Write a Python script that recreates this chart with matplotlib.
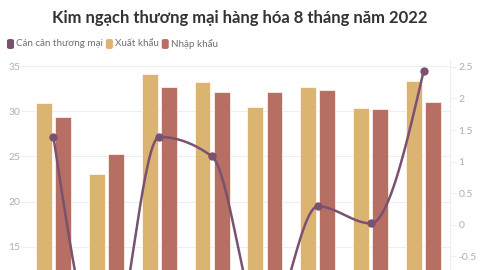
import numpy as np
import matplotlib
matplotlib.use("Agg")
import matplotlib.pyplot as plt
from matplotlib.patches import FancyBboxPatch

months = ["T1", "T2", "T3", "T4", "T5", "T6", "T7", "T8"]
xuat_khau = [30.9, 23.0, 34.1, 33.3, 30.5, 32.7, 30.4, 33.4]
nhap_khau = [29.4, 25.3, 32.7, 32.2, 32.2, 32.4, 30.3, 31.0]
can_can = [1.39, -2.3, 1.39, 1.08, -1.7, 0.29, 0.02, 2.43]

title = "Kim ngạch thương mại hàng hóa 8 tháng năm 2022"
legend_labels = ["Cán cân thương mại", "Xuất khẩu", "Nhập khẩu"]
left_ticks = [15, 20, 25, 30, 35]
right_ticks = [-0.5, 0, 0.5, 1, 1.5, 2, 2.5]

C_X = "#dcb472"
C_N = "#b66f62"
C_L = "#7a5170"
GRID = "#eeeeee"
TICK = "#b0b0b0"

plt.rcParams['font.family'] = ['Lato', 'DejaVu Sans']

def monotone_x(x, y, n=40):
    x = np.asarray(x, float); y = np.asarray(y, float)
    m = len(x)
    h = np.diff(x); s = np.diff(y) / h
    t = np.zeros(m)
    for i in range(1, m - 1):
        h0, h1, s0, s1 = h[i-1], h[i], s[i-1], s[i]
        p = (s0 * h1 + s1 * h0) / (h0 + h1)
        t[i] = (np.sign(s0) + np.sign(s1)) * min(abs(s0), abs(s1), 0.5 * abs(p))
    t[0] = (3 * s[0] - t[1]) / 2
    t[-1] = (3 * s[-1] - t[-2]) / 2
    xs, ys = [], []
    for i in range(m - 1):
        dx = h[i]
        P0 = (x[i], y[i]); P1 = (x[i] + dx/3, y[i] + dx*t[i]/3)
        P2 = (x[i+1] - dx/3, y[i+1] - dx*t[i+1]/3); P3 = (x[i+1], y[i+1])
        u = np.linspace(0, 1, n)
        bx = (1-u)**3*P0[0] + 3*(1-u)**2*u*P1[0] + 3*(1-u)*u**2*P2[0] + u**3*P3[0]
        by = (1-u)**3*P0[1] + 3*(1-u)**2*u*P1[1] + 3*(1-u)*u**2*P2[1] + u**3*P3[1]
        xs.extend(bx); ys.extend(by)
    return np.array(xs), np.array(ys)

fig = plt.figure(figsize=(4.8, 2.7), dpi=100)
ax = fig.add_axes([27/480, 0, (450-27)/480, (270-60)/270])
ax.set_ylim(12.4, 35.7)
ax.set_xlim(-0.5, 7.5)

x = np.arange(len(months))
w = 0.30
off = 0.18
ax.bar(x - off, xuat_khau, w, color=C_X, edgecolor="#fff6e8", linewidth=0.6, zorder=2)
ax.bar(x + off, nhap_khau, w, color=C_N, edgecolor="#fbeee8", linewidth=0.6, zorder=2)

for v in left_ticks:
    ax.axhline(v, color=GRID, lw=0.8, zorder=0)
ax.set_yticks(left_ticks)
ax.set_yticklabels([str(v) for v in left_ticks])
ax.tick_params(axis='y', colors=GRID, labelcolor=TICK, labelsize=7.5, length=4, width=0.8, pad=1)
ax.set_xticks([])
for sp in ax.spines.values():
    sp.set_visible(False)

ax2 = ax.twinx()
ax2.set_ylim(-0.72, 2.61)
xs, ys = monotone_x(x, can_can)
ax2.plot(xs, ys, color=C_L, lw=1.8, zorder=3, solid_capstyle='round')
ax2.plot(x, can_can, 'o', color=C_L, ms=5, zorder=4)
ax2.set_yticks(right_ticks)
ax2.set_yticklabels(["%g" % v for v in right_ticks])
ax2.tick_params(axis='y', colors=GRID, labelcolor=TICK, labelsize=7.5, length=4, width=0.8, pad=2)
for sp in ax2.spines.values():
    sp.set_visible(False)
ax2.spines['right'].set_visible(True)
ax2.spines['right'].set_color(GRID)

fig.text(0.5, 1 - 17.5/270, title, ha='center', va='center', fontsize=12,
         fontweight='bold', color='#333333')

lx = 7
ly = 44
for lab, col in zip(legend_labels, [C_L, C_X, C_N]):
    box = FancyBboxPatch((lx/480, (270-ly-5)/270), 7/480, 10/270,
                         boxstyle="round,pad=0,rounding_size=0.006",
                         transform=fig.transFigure, facecolor=col, edgecolor='none')
    fig.patches.append(box)
    t = fig.text((lx + 9)/480, 1 - ly/270, lab, ha='left', va='center',
                 fontsize=7.1, color='#707070')
    fig.canvas.draw()
    bb = t.get_window_extent()
    lx = bb.x1 + 3

fig.savefig("out.png", dpi=100)
